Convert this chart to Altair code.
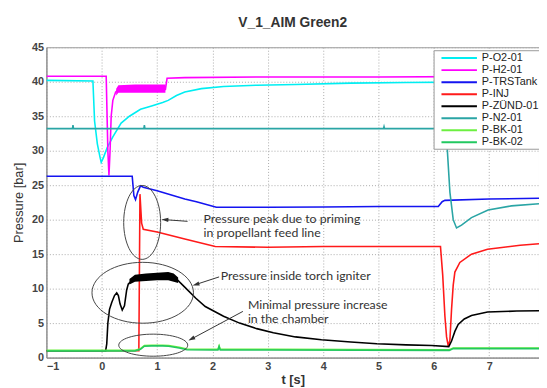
import altair as alt
import pandas as pd

SERIES = ["P-O2-01", "P-H2-01", "P-TRSTank", "P-INJ", "P-ZÜND-01", "P-N2-01", "P-BK-01", "P-BK-02"]
COLORS = ["#00eef2", "#ff00ff", "#1414f0", "#ff1a1a", "#000000", "#2aa5a5", "#6cf040", "#22c860"]

o2_t = [-1, -0.16, -0.13, -0.08, -0.03, -0.01, 0.03, 0.1, 0.2, 0.35, 0.5, 0.7, 0.9, 1.1, 1.2, 1.35, 1.5, 1.8, 2.2, 2.8, 3.5, 4.5, 5.5, 6.5, 7.9]
o2_p = [40.2, 40.1, 34.3, 31.0, 29.0, 28.3, 29.0, 30.5, 32.0, 34.0, 35.0, 36.0, 36.5, 37.0, 37.3, 38.0, 38.5, 39.0, 39.3, 39.5, 39.6, 39.8, 39.9, 39.95, 40.0]

h2_t = [-1, 0.08, 0.11, 0.13, 0.15, 0.17, 0.2, 0.25, 0.3, 1.15, 1.18, 1.5, 3, 5, 7.9]
h2_p = [40.8, 40.8, 30.0, 26.4, 30.0, 35.0, 37.3, 38.5, 38.9, 38.9, 40.5, 40.6, 40.7, 40.7, 40.8]

trs_t = [-1, 0.55, 0.58, 0.61, 0.65, 0.70, 0.75, 1.0, 1.5, 1.71, 2.07, 3, 4, 5, 6.08, 6.15, 6.2, 7, 7.9]
trs_p = [26.3, 26.3, 23.5, 22.9, 24.0, 24.9, 24.7, 24.2, 23.0, 22.6, 21.8, 21.8, 21.85, 21.9, 21.9, 22.6, 22.8, 23.0, 23.1]

inj_t = [-1, 0.67, 0.69, 0.72, 0.75, 1.0, 1.5, 2.05, 3, 4, 5, 6.12, 6.16, 6.2, 6.23, 6.26, 6.29, 6.32, 6.35, 6.38, 6.47, 6.68, 6.97, 7.56, 7.9]
inj_p = [1.0, 1.0, 23.7, 19.5, 18.6, 18.2, 17.2, 16.1, 16.0, 16.1, 16.1, 16.1, 12.0, 6.0, 3.0, 1.7, 2.5, 7.0, 10.5, 12.4, 13.8, 15.0, 15.7, 16.3, 16.5]

zund_t = [-1, 0.07, 0.09, 0.11, 0.14, 0.18, 0.23, 0.27, 0.3, 0.33, 0.37, 0.41, 0.45, 0.48, 0.55, 0.65, 0.8, 1.0, 1.2, 1.35, 1.49, 1.7, 1.87, 2.2, 2.49, 2.8, 3.1, 3.5, 3.97, 4.5, 4.97, 5.5, 5.96, 6.27, 6.32, 6.38, 6.44, 6.55, 6.68, 6.97, 7.5, 7.9]
zund_p = [1.0, 1.0, 2.0, 5.0, 7.0, 8.0, 9.0, 9.4, 9.0, 7.8, 6.9, 7.5, 9.8, 10.7, 11.2, 11.8, 11.7, 11.8, 11.8, 11.4, 10.3, 8.6, 7.4, 6.0, 5.0, 4.2, 3.6, 3.0, 2.6, 2.25, 2.0, 1.85, 1.75, 1.6, 2.4, 3.8, 4.8, 5.6, 6.1, 6.6, 6.75, 6.8]

n2_t = [-1, -0.53, -0.52, -0.51, 0.76, 0.77, 0.78, 5.09, 5.1, 5.11, 6.22, 6.29, 6.35, 6.41, 6.5, 6.68, 6.98, 7.4, 7.9]
n2_p = [33.2, 33.2, 33.7, 33.2, 33.2, 33.7, 33.2, 33.2, 33.5, 33.2, 33.2, 24.0, 20.0, 18.8, 19.2, 20.3, 21.4, 22.0, 22.3]

bk1_t = [-1, 0.6, 0.7, 0.77, 0.9, 1.1, 1.21, 1.4, 1.54, 2.0, 2.1, 2.12, 2.14, 3, 6.28, 6.35, 7.9]
bk1_p = [1.05, 1.05, 1.3, 1.75, 1.8, 1.8, 1.75, 1.5, 1.25, 1.2, 1.2, 1.7, 1.2, 1.2, 1.15, 1.4, 1.4]

bk2_t = [-1, 0.6, 0.7, 0.77, 0.9, 1.1, 1.21, 1.4, 1.54, 2.0, 2.1, 2.12, 2.14, 3, 6.28, 6.35, 7.9]
bk2_p = [0.95, 0.95, 1.2, 1.65, 1.7, 1.7, 1.65, 1.4, 1.15, 1.1, 1.1, 1.6, 1.1, 1.1, 1.05, 1.3, 1.3]

# noise envelopes
h2_band_t = [0.26, 0.3, 0.6, 0.9, 1.15]
h2_band_lo = [38.0, 38.4, 38.4, 38.4, 38.4]
h2_band_hi = [39.0, 39.5, 39.6, 39.6, 39.6]

zund_band_t = [0.5, 0.6, 0.8, 1.0, 1.2, 1.3, 1.38]
zund_band_lo = [10.6, 11.0, 11.1, 11.2, 11.2, 11.0, 10.8]
zund_band_hi = [11.4, 12.0, 12.2, 12.3, 12.4, 12.2, 11.6]

# annotations
ell_t = [0.73, 0.74, 0.93]
ell_p = [19.6, 9.4, 1.8]
arrow_t1 = [1.55, 2.12, 2.55]
arrow_p1 = [19.76, 11.7, 6.7]
arrow_t2 = [1.14, 1.70, 1.62]
arrow_p2 = [20.0, 10.6, 2.7]
arrow_ang = [274, 253, 242]
note_t = [1.84, 1.84, 2.15, 2.64, 2.64]
note_p = [20.15, 18.0, 11.8, 7.65, 5.55]
note_text = ["Pressure peak due to priming", "in propellant feed line",
             "Pressure inside torch igniter", "Minimal pressure increase", "in the chamber"]

series_t = [o2_t, h2_t, trs_t, inj_t, zund_t, n2_t, bk1_t, bk2_t]
series_p = [o2_p, h2_p, trs_p, inj_p, zund_p, n2_p, bk1_p, bk2_p]

rows = []
for name, ts, ps in zip(SERIES, series_t, series_p):
    for i, (t, p) in enumerate(zip(ts, ps)):
        rows.append({"series": name, "t": t, "p": p, "i": i})
df = pd.DataFrame(rows)

ell_df = pd.DataFrame({
    "t": ell_t, "p": ell_p,
    "shape": ["M -0.5 0 A 0.5 1 0 1 0 0.5 0 A 0.5 1 0 1 0 -0.5 0 Z",
              "M -1 0 A 1 0.6 0 1 0 1 0 A 1 0.6 0 1 0 -1 0 Z",
              "M -1 0 A 1 0.32 0 1 0 1 0 A 1 0.32 0 1 0 -1 0 Z"],
    "size": [75 ** 2, 103 ** 2, 70 ** 2],
})
arr_df = pd.DataFrame({"t1": arrow_t1, "p1": arrow_p1, "t2": arrow_t2, "p2": arrow_p2, "ang": arrow_ang})
note_df = pd.DataFrame({"t": note_t, "p": note_p, "text": note_text})
h2_band = pd.DataFrame({"t": h2_band_t, "lo": h2_band_lo, "hi": h2_band_hi})
zund_band = pd.DataFrame({"t": zund_band_t, "lo": zund_band_lo, "hi": zund_band_hi})

xscale = alt.Scale(domain=[-1, 7.9], nice=False)
yscale = alt.Scale(domain=[0, 45], nice=False)

xaxis = alt.Axis(values=list(range(-1, 8)), title="t [s]", titleFontSize=13, titleFontWeight="bold",
                 titleFont="Liberation Sans", titleColor="#333", titlePadding=2,
                 labelFont="Liberation Sans", labelFontSize=11, labelFontWeight="bold", labelColor="#444",
                 labelPadding=3, ticks=False, grid=True, gridDash=[1, 2], gridColor="#aaa",
                 domainColor="#888", format="d", labelOverlap=False)
yaxis = alt.Axis(values=list(range(0, 50, 5)), title="Pressure [bar]", titleFontSize=13,
                 titleFontWeight="normal", titleFont="Liberation Sans", titleColor="#333", titlePadding=6,
                 labelFont="Liberation Sans", labelFontSize=11, labelFontWeight="bold", labelColor="#444",
                 labelPadding=3, ticks=False, grid=True, gridDash=[1, 2], gridColor="#aaa",
                 domainColor="#888", format="d", labelOverlap=False)

def xn(field):
    return alt.X(field, scale=xscale, axis=xaxis)

def yn(field):
    return alt.Y(field, scale=yscale, axis=yaxis)

bands = [
    alt.Chart(h2_band).mark_area(color="#ff00ff", clip=True).encode(
        x=xn("t:Q"), y=yn("lo:Q"), y2="hi:Q"),
    alt.Chart(zund_band).mark_area(color="#000000", clip=True).encode(
        x=xn("t:Q"), y=yn("lo:Q"), y2="hi:Q"),
]

lines = alt.Chart(df).mark_line(strokeWidth=1.6, clip=True).encode(
    x=xn("t:Q"),
    y=yn("p:Q"),
    color=alt.Color("series:N", sort=SERIES, scale=alt.Scale(domain=SERIES, range=COLORS),
                    legend=alt.Legend(title=None, orient="none", legendX=393, legendY=3,
                                      symbolType="M -3 0 L 3 0", symbolSize=144, symbolStrokeWidth=2,
                                      symbolOffset=18, labelOffset=16, labelFontSize=11,
                                      labelFont="Liberation Sans", labelColor="#222",
                                      fillColor="white", strokeColor="#999", padding=1,
                                      rowPadding=0.2, labelLimit=200)),
    order="i:Q",
)

ellipses = alt.Chart(ell_df).mark_point(filled=False, color="#444", strokeWidth=1, opacity=1).encode(
    x=xn("t:Q"), y=yn("p:Q"),
    shape=alt.Shape("shape:N", scale=None), size=alt.Size("size:Q", scale=None))

shafts = alt.Chart(arr_df).mark_rule(color="#333", strokeWidth=1).encode(
    x=xn("t1:Q"), y=yn("p1:Q"), x2="t2:Q", y2="p2:Q")

heads = alt.Chart(arr_df).mark_point(filled=True, color="#333", opacity=1, shape="M 0 -1 L 0.6 1 L -0.6 1 Z").encode(
    x=xn("t2:Q"), y=yn("p2:Q"),
    angle=alt.Angle("ang:Q", scale=None), size=alt.value(50))

notes = alt.Chart(note_df).mark_text(align="left", baseline="middle", font="Lato", fontSize=12.5,
                                     color="#333").encode(
    x=xn("t:Q"), y=yn("p:Q"), text="text:N")

chart = alt.layer(lines, *bands, ellipses, shafts, heads, notes).properties(
    width=500, height=315,
    title=alt.TitleParams("V_1_AIM Green2", fontSize=14, fontWeight="bold", font="Liberation Sans",
                          color="#333", offset=12, anchor="middle"),
    autosize=alt.AutoSizeParams(type="none"),
    padding={"left": 39, "top": 37, "right": 0, "bottom": 28},
    background="white",
).configure_view(stroke="#999", strokeWidth=1)

chart.save("out.html", embed_options={"renderer": "svg", "actions": False})
